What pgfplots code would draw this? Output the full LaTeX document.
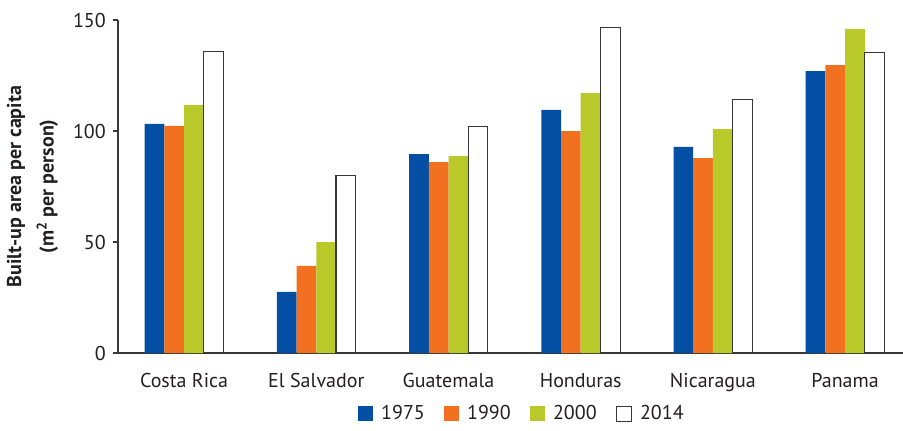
\documentclass[border=0pt]{standalone}
\usepackage{fontspec}
\setmainfont{PT Sans}
\usepackage{pgfplots}
\pgfplotsset{compat=1.18}
\definecolor{cblue}{RGB}{2,79,163}
\definecolor{corange}{RGB}{242,113,33}
\definecolor{cgreen}{RGB}{185,201,41}
\definecolor{cgray}{RGB}{55,55,55}
\definecolor{ctext}{RGB}{35,31,32}
\begin{document}
\fontsize{15}{18}\selectfont
\begin{tikzpicture}
\useasboundingbox (-88.5pt,-57.75pt) rectangle (588.75pt,264.75pt);
\begin{axis}[
  at={(0pt,0pt)}, anchor=south west,
  width=588.75pt, height=249.75pt, scale only axis,
  xmin=-0.5, xmax=5.438, ymin=0, ymax=150,
  axis lines=left,
  axis line style={-, draw=cgray, line width=0.9pt},
  ybar=0pt, bar width=0.149,
  ytick={0,50,100,150},
  xtick={0,1,2,3,4,5},
  xticklabels={Costa Rica,El Salvador,Guatemala,Honduras,Nicaragua,Panama},
  xtick style={draw=none},
  extra x ticks={-0.5,0.5,1.5,2.5,3.5,4.5},
  extra x tick labels={},
  extra x tick style={draw=cgray, line width=0.9pt, major tick length=6pt},
  tick align=outside,
  ytick style={draw=cgray, line width=0.9pt},
  major tick length=4pt,
  /pgf/number format/assume math mode=true,
  tick label style={font=\fontsize{15}{18}\selectfont, text=ctext},
  xticklabel style={yshift=-6pt},
  ylabel={Built-up area per capita\\(m\textsuperscript{2} per person)},
  ylabel style={align=center, font=\fontsize{15}{24.5}\selectfont\bfseries, text=ctext, yshift=1pt},
  legend columns=4,
  legend style={draw=none, at={(0.515,-0.182)}, anchor=center,
    font=\fontsize{15}{18}\selectfont, text=ctext,
    /tikz/every odd column/.append style={column sep=4pt},
    /tikz/every even column/.append style={column sep=12.5pt}},
  legend image code/.code={\path[#1] (0pt,-5.6pt) rectangle (11.25pt,5.6pt);},
]
\addplot[fill=cblue, draw=none] coordinates {(0,103.2) (1,27.5) (2,89.6) (3,109.5) (4,92.8) (5,127.0)};
\addplot[fill=corange, draw=none] coordinates {(0,102.3) (1,39.2) (2,86.0) (3,100.0) (4,87.8) (5,129.7)};
\addplot[fill=cgreen, draw=none] coordinates {(0,111.7) (1,50.0) (2,88.7) (3,117.1) (4,100.9) (5,145.9)};
\addplot[fill=white, draw=cgray, line width=0.8pt] coordinates {(0,135.7) (1,79.9) (2,102.1) (3,146.7) (4,114.4) (5,135.3)};
\legend{1975,1990,2000,2014}
\end{axis}
\end{tikzpicture}
\end{document}
